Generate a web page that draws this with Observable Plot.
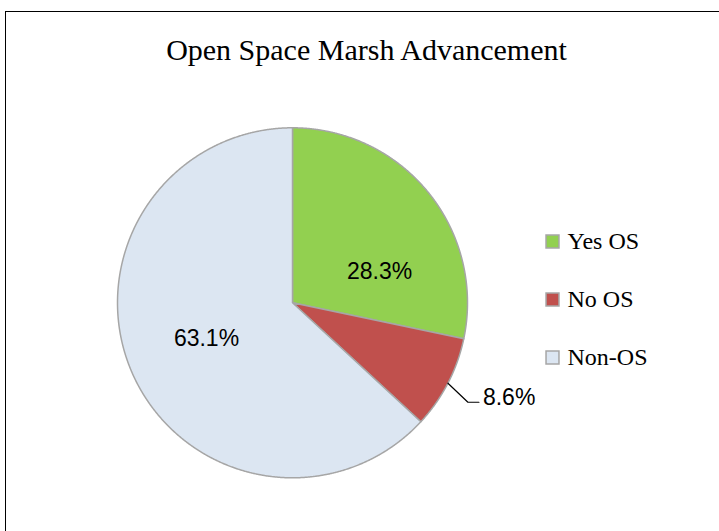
<!DOCTYPE html>
<html>
<head>
<meta charset="utf-8">
<script src="https://cdn.jsdelivr.net/npm/d3@7"></script>
<script src="https://cdn.jsdelivr.net/npm/@observablehq/plot@0.6"></script>
<style>
  html, body { margin: 0; padding: 0; background: #fff; }
  #wrap { position: relative; width: 719px; height: 531px; overflow: hidden; }
  #border { position: absolute; left: 5px; top: 11px; width: 800px; height: 600px;
            border-left: 1.5px solid #000; border-top: 1.5px solid #000; pointer-events: none; }
</style>
</head>
<body>
<div id="wrap"><div id="border"></div></div>
<script>
// ---- data ----
const title = "Open Space Marsh Advancement";
const categories = ["Yes OS", "No OS", "Non-OS"];
const shares = [28.3, 8.6, 63.1];
const labels = ["28.3%", "8.6%", "63.1%"];
const colors = ["#92D050", "#C0504D", "#DCE6F2"];

// ---- layout / geometry ----
const W = 719, H = 531;
const cx = 292, cy = 302.3, R = 175;
const rows = categories.map((name, i) => ({name, value: shares[i], label: labels[i]}));
const arcs = d3.pie().sort(null).value(d => d.value)(rows);

// polygon outline of each slice in unit-radius coordinates (y up)
const polys = [];
arcs.forEach(a => {
  const n = Math.max(2, Math.ceil((a.endAngle - a.startAngle) / 0.004));
  polys.push({name: a.data.name, x: 0, y: 0});
  for (let k = 0; k <= n; k++) {
    const t = a.startAngle + (a.endAngle - a.startAngle) * k / n;
    polys.push({name: a.data.name, x: Math.sin(t), y: Math.cos(t)});
  }
});

// label placement (inside labels at mid angle; small slice gets a leader line)
const inside = [], outside = [], leader = [];
const tweak = {"Yes OS": [15, 27], "Non-OS": [-1, -1]};
arcs.forEach(a => {
  const mid = (a.startAngle + a.endAngle) / 2;
  if (a.data.value >= 15) {
    const r = 0.53;
    const [dx, dy] = tweak[a.data.name] || [0, 0];
    inside.push({label: a.data.label, x: r * Math.sin(mid) + dx / R, y: r * Math.cos(mid) - dy / R});
  } else {
    const p0 = {x: Math.sin(mid), y: Math.cos(mid)};
    const p1 = {x: p0.x + 20 / R, y: p0.y - 19 / R};
    const p2 = {x: p1.x + 11 / R, y: p1.y};
    leader.push(p0, p1, p2);
    outside.push({label: a.data.label, x: p2.x, y: p2.y});
  }
});

const legendMarks = categories.flatMap((name, i) => [
  Plot.dot([name], {frameAnchor: "top-left", dx: 552, dy: 241 + 58 * i, symbol: "square",
    r: 7.3, fill: d => d, stroke: "#A6A6A6", strokeWidth: 1.5}),
  Plot.text([name], {frameAnchor: "top-left", dx: 567, dy: 241 + 58 * i, text: d => d,
    textAnchor: "start", lineAnchor: "middle", fontSize: 24, fill: "#000",
    fontFamily: "Liberation Serif"})
]);

const chart = Plot.plot({
  width: W, height: H,
  marginTop: 0, marginRight: 0, marginBottom: 0, marginLeft: 0,
  x: {domain: [-1, 1], range: [cx - R, cx + R], axis: null},
  y: {domain: [-1, 1], range: [cy + R, cy - R], axis: null},
  color: {domain: categories, range: colors},
  style: {background: "transparent"},
  marks: [
    Plot.line(polys, {x: "x", y: "y", z: "name", fill: "name", stroke: "#A6A6A6",
      strokeWidth: 1.5, strokeLinejoin: "round", curve: "linear-closed"}),
    Plot.text(inside, {x: "x", y: "y", text: "label", fontSize: 23, fill: "#000",
      fontFamily: "Liberation Sans", textAnchor: "middle", lineAnchor: "middle"}),
    Plot.line(leader, {x: "x", y: "y", stroke: "#000", strokeWidth: 1.2}),
    Plot.text(outside, {x: "x", y: "y", text: "label", dx: 4, dy: -5, fontSize: 23, fill: "#000",
      fontFamily: "Liberation Sans", textAnchor: "start", lineAnchor: "middle"}),
    ...legendMarks,
    Plot.text([title], {frameAnchor: "top-left", dx: 366, dy: 49.4, textAnchor: "middle",
      lineAnchor: "middle", fontSize: 30, fill: "#000", fontFamily: "Liberation Serif"})
  ]
});
document.getElementById("wrap").prepend(chart);
</script>
</body>
</html>
